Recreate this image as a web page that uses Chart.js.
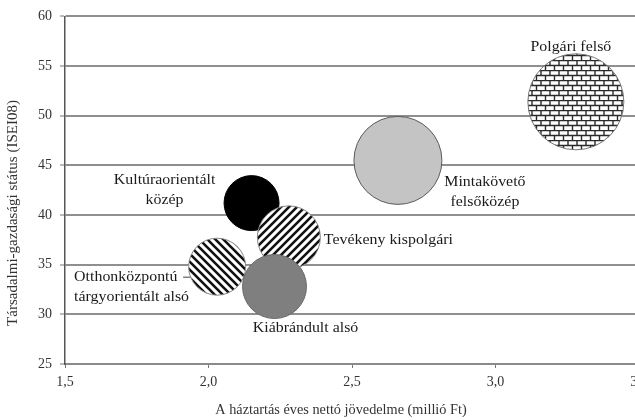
<!DOCTYPE html>
<html>
<head>
<meta charset="utf-8">
<script src="https://cdn.jsdelivr.net/npm/chart.js@4/dist/chart.umd.min.js"></script>
<style>
  html, body { margin: 0; padding: 0; background: #fff; overflow: hidden; }
  #wrap { width: 660px; height: 420px; }
</style>
</head>
<body>
<div id="wrap"><canvas id="chart" width="660" height="420"></canvas></div>
<script>
// data
const groups = [
  "Kultúraorientált közép",
  "Tevékeny kispolgári",
  "Otthonközpontú tárgyorientált alsó",
  "Kiábrándult alsó",
  "Mintakövető felsőközép",
  "Polgári felső"
];
const income = [2.15, 2.28, 2.03, 2.23, 2.66, 3.28];
const status = [41.2, 37.75, 34.8, 32.8, 45.5, 51.4];
const bubbleSize = [27.5, 31.5, 28.5, 32, 44, 48];

const xTicks = [1.5, 2.0, 2.5, 3.0, 3.5];
const yTicks = [25, 30, 35, 40, 45, 50, 55, 60];

const xTitle = "A háztartás éves nettó jövedelme (millió Ft)";
const yTitle = "Társadalmi-gazdasági státus (ISEI08)";

// label text lines + placement relative to bubble centre
const labelLayout = [
  { lines: ["Kultúraorientált", "közép"], dx: -87, dy: -23, align: "center" },
  { lines: ["Tevékeny kispolgári"], dx: 35, dy: 3, align: "left" },
  { lines: ["Otthonközpontú", "tárgyorientált alsó"], dx: -143, dy: 10, align: "left", leader: [-34, -27] },
  { lines: ["Kiábrándult alsó"], dx: 31, dy: 42, align: "center" },
  { lines: ["Mintakövető", "felsőközép"], dx: 87, dy: 22, align: "center" },
  { lines: ["Polgári felső"], dx: -5, dy: -55, align: "center" }
];

const serif = "'Liberation Serif', 'DejaVu Serif', serif";
const stretch = 1.06; // the scan is a bit wider than tall

function stripes(dir) {
  const s = 8;
  const c = document.createElement("canvas");
  c.width = s; c.height = s;
  const g = c.getContext("2d");
  g.fillStyle = "#fff";
  g.fillRect(0, 0, s, s);
  g.strokeStyle = "#111";
  g.lineWidth = 2.6;
  g.beginPath();
  if (dir === "up") {
    g.moveTo(-2, s + 2); g.lineTo(s + 2, -2);
    g.moveTo(-2, 2); g.lineTo(2, -2);
    g.moveTo(s - 2, s + 2); g.lineTo(s + 2, s - 2);
  } else {
    g.moveTo(-2, -2); g.lineTo(s + 2, s + 2);
    g.moveTo(s - 2, -2); g.lineTo(s + 2, 2);
    g.moveTo(-2, s - 2); g.lineTo(2, s + 2);
  }
  g.stroke();
  return g.createPattern(c, "repeat");
}

function bricks() {
  const w = 9, h = 10;
  const c = document.createElement("canvas");
  c.width = w; c.height = h;
  const g = c.getContext("2d");
  g.fillStyle = "#fff";
  g.fillRect(0, 0, w, h);
  g.strokeStyle = "#2a2a2a";
  g.lineWidth = 1.4;
  g.beginPath();
  g.moveTo(0, 0.5); g.lineTo(w, 0.5);
  g.moveTo(0, 5.5); g.lineTo(w, 5.5);
  g.moveTo(1, 0); g.lineTo(1, 5.5);
  g.moveTo(5.5, 5.5); g.lineTo(5.5, h);
  g.stroke();
  return g.createPattern(c, "repeat");
}

const fills = ["#000000", stripes("up"), stripes("down"), "#7f7f7f", "#c4c4c4", bricks()];
const borders = ["#000", "#888", "#888", "#6a6a6a", "#5a5a5a", "#777"];

function stretchedText(ctx, t, x, y, k) {
  ctx.save();
  ctx.translate(x, y);
  ctx.scale(k, 1);
  ctx.fillText(t, 0, 0);
  ctx.restore();
}

const labelPlugin = {
  id: "bubbleLabels",
  afterDatasetsDraw(chart) {
    const ctx = chart.ctx;
    const pts = chart.getDatasetMeta(0).data;
    ctx.save();
    ctx.font = "15px " + serif;
    ctx.fillStyle = "#1a1a1a";
    ctx.textBaseline = "middle";
    labelLayout.forEach((lab, i) => {
      const p = pts[i];
      ctx.textAlign = lab.align;
      lab.lines.forEach((t, k) => {
        stretchedText(ctx, t, p.x + lab.dx, p.y + lab.dy + k * 20, stretch);
      });
      if (lab.leader) {
        ctx.strokeStyle = "#444";
        ctx.lineWidth = 1;
        ctx.beginPath();
        ctx.moveTo(p.x + lab.leader[0], p.y + lab.dy + 0.5);
        ctx.lineTo(p.x + lab.leader[1], p.y + lab.dy + 0.5);
        ctx.stroke();
      }
    });
    // axis titles
    ctx.font = "14px " + serif;
    ctx.textAlign = "center";
    ctx.fillStyle = "#333";
    stretchedText(ctx, xTitle, 341, 410, 1.02);
    ctx.translate(13, 213);
    ctx.rotate(-Math.PI / 2);
    ctx.font = "15px " + serif;
    ctx.fillText(yTitle, 0, 0);
    ctx.restore();
  }
};

new Chart(document.getElementById("chart"), {
  type: "bubble",
  data: {
    datasets: [{
      label: "Csoportok",
      data: groups.map((g, i) => ({ x: income[i], y: status[i], r: bubbleSize[i] })),
      backgroundColor: fills,
      borderColor: borders,
      borderWidth: 1,
      hoverRadius: 0
    }]
  },
  options: {
    responsive: false,
    animation: false,
    events: [],
    layout: { autoPadding: false, padding: { left: 0, right: 21, top: 15, bottom: 0 } },
    plugins: {
      legend: { display: false },
      tooltip: { enabled: false }
    },
    scales: {
      x: {
        type: "linear",
        min: 1.5,
        max: 3.5,
        afterBuildTicks: (s) => { s.ticks = xTicks.map(v => ({ value: v })); },
        afterFit: (s) => { s.height = 56; },
        grid: { drawOnChartArea: false, drawTicks: true, tickLength: 4, color: "#777", lineWidth: 1 },
        border: { display: true, color: "#8a8a8a", width: 2 },
        ticks: {
          padding: 6,
          color: "#333",
          font: { family: serif, size: 14 },
          maxRotation: 0,
          callback: (v) => v.toFixed(1).replace(".", ",")
        }
      },
      y: {
        type: "linear",
        min: 25,
        max: 60,
        afterBuildTicks: (s) => { s.ticks = yTicks.map(v => ({ value: v })); },
        afterFit: (s) => { s.width = 65; },
        grid: { color: "#8f8f8f", lineWidth: 2, tickLength: 5, tickColor: "#777", tickWidth: 1 },
        border: { display: true, color: "#555", width: 1.5 },
        ticks: {
          padding: 8,
          color: "#333",
          font: { family: serif, size: 14 }
        }
      }
    }
  },
  plugins: [labelPlugin]
});
</script>
</body>
</html>
